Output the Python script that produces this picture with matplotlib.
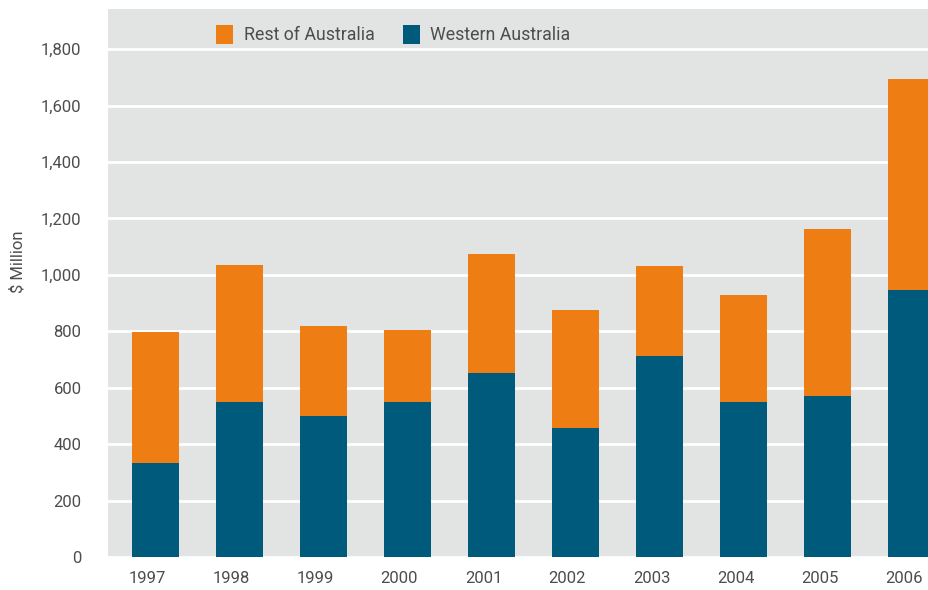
import matplotlib
matplotlib.use("Agg")
import matplotlib.pyplot as plt
import matplotlib.transforms as mtransforms
import numpy as np

# Dépenses par année, en millions de dollars
annees = ["1997", "1998", "1999", "2000", "2001", "2002", "2003", "2004", "2005", "2006"]
western_australia = [333, 549, 500, 549, 652, 457, 712, 549, 570, 946]
rest_of_australia = [464, 486, 318, 255, 422, 418, 319, 379, 592, 748]

BLEU = "#005A7C"
ORANGE = "#EE7E14"
FOND = "#E2E3E3"
TEXTE = "#4D4D4D"

plt.rcParams["font.family"] = ["Roboto", "DejaVu Sans"]

fig = plt.figure(figsize=(9.29, 5.9), dpi=100)
ax = fig.add_axes([108 / 929, 33 / 590, 1 - 108 / 929, (557 - 9) / 590])
ax.set_facecolor(FOND)

x = np.arange(len(annees))
largeur = 0.56
ax.bar(x, western_australia, largeur, color=BLEU, label="Western Australia", zorder=3)
ax.bar(x, rest_of_australia, largeur, bottom=western_australia, color=ORANGE,
       label="Rest of Australia", zorder=3)

ax.set_xlim(-0.565, 9.208)
ax.set_ylim(0, 1942)
ax.set_yticks(np.arange(0, 1801, 200))
ax.set_yticklabels([f"{v:,}" for v in range(0, 1801, 200)])
ax.set_xticks(x)
ax.set_xticklabels(annees)

ax.grid(axis="y", color="white", linewidth=2, zorder=1)
for s in ax.spines.values():
    s.set_visible(False)
ax.tick_params(length=0, labelsize=12, colors=TEXTE, pad=10)
ax.tick_params(axis="y", pad=19)

# les années sont un peu décalées vers la gauche
decalage = mtransforms.ScaledTranslation(-8 / 100, 0, fig.dpi_scale_trans)
for lab in ax.get_xticklabels():
    lab.set_transform(lab.get_transform() + decalage)

# étiquette de l'axe y placée à la main pour ne pas être coupée
fig.text(18 / 929, 1 - 262 / 590, "$ Million", rotation=90, fontsize=12,
         color=TEXTE, ha="center", va="center")

# Légende en haut, orange d'abord
h, l = ax.get_legend_handles_labels()
ax.legend(h[::-1], l[::-1], loc="upper left", bbox_to_anchor=(0.112, 1.0), ncol=2,
          frameon=False, fontsize=12.8, labelcolor=TEXTE, handlelength=0.95,
          handleheight=1.25, columnspacing=1.6, handletextpad=0.6)

fig.savefig("out.png", dpi=100)
